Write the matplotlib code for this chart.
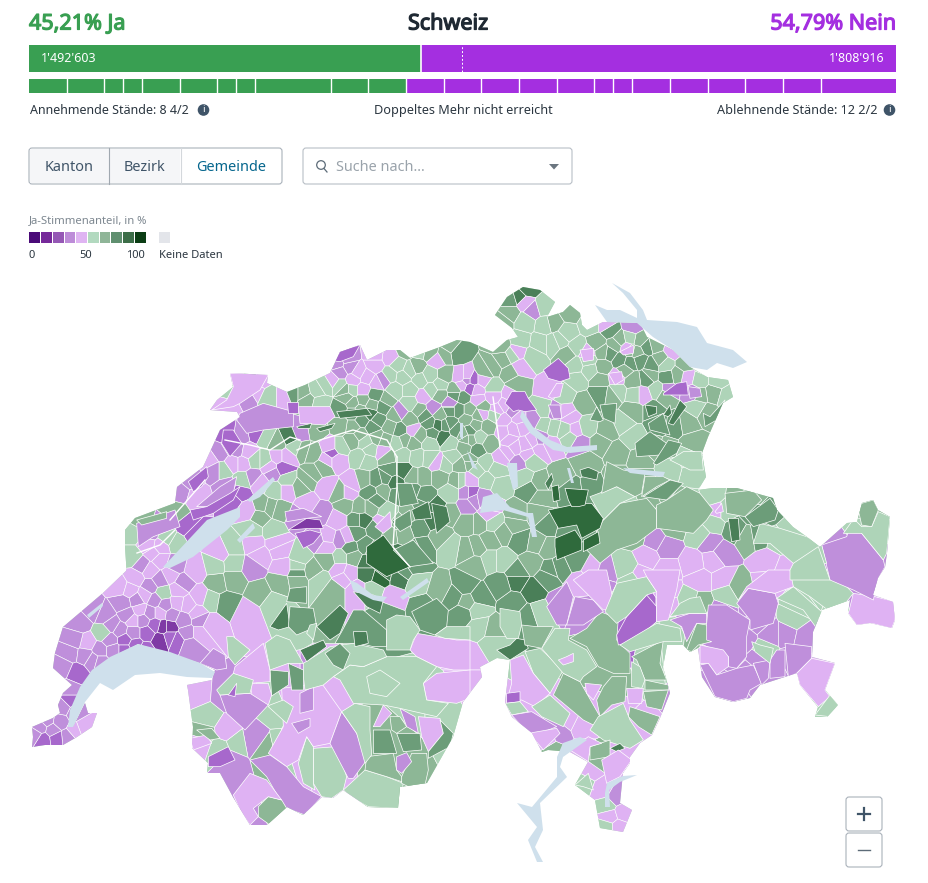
import numpy as np
import matplotlib
matplotlib.use("Agg")
import matplotlib.pyplot as plt
import matplotlib.patheffects as pe
from matplotlib.patches import Polygon, FancyBboxPatch, Circle, Rectangle
from matplotlib.collections import PolyCollection
from matplotlib.colors import ListedColormap, BoundaryNorm

plt.rcParams['font.family'] = ['Noto Sans', 'DejaVu Sans']

W, H = 929, 883
# headline values
yes_votes, no_votes = 1492603, 1808916
yes_label, no_label = "45,21% Ja", "54,79% Nein"
stand_yes = [1, 1, .5, .5, 1, 1, .5, .5, 2, 1, 1]
stand_no = [1, 1, 1, 1, 1, .5, .5, 1, 1, 1, 1, 1, 2]
legend_colors = ['#4a0a78', '#76299a', '#9558b5', '#bd8cd8', '#dfb4f2',
                 '#b2d9bf', '#8fb598', '#5f8f6f', '#3c6e48', '#0b3d14']
legend_ticks = ['0', '50', '100']

# Ja-share classes used on the map
P4, P3, P2, P1, G1, G2, G3, G4, G5 = 15, 25, 35, 45, 55, 62, 68, 74, 80
share_bounds = [0, 20, 30, 40, 50, 60, 65, 70, 77, 100]
share_colors = ['#7f3aa5', '#a768cc', '#bf8fdb', '#dfb2f3', '#aed4b8',
                '#8db796', '#6c9d79', '#4a7f58', '#2f6a3c']

# map geometry, in the map's own coordinate plane
border = [(230,373),(268,375),(267,383),(287,392),(305,385),(330,373),(340,352),(360,345),(367,360),(387,350),(400,350),(410,358),(440,347),(457,340),(470,342),(493,352),(507,340),(518,337),(512,328),(495,315),(507,297),(523,287),(540,290),(555,302),(547,317),(563,312),(570,305),(580,313),(582,325),(587,330),(603,322),(640,323),(647,337),(673,350),(690,367),(707,377),(728,380),(733,397),(723,403),(708,437),(702,453),(706,477),(698,490),(713,488),(737,488),(773,498),(777,510),(793,527),(807,537),(820,547),(847,523),(857,522),(862,503),(873,500),(878,510),(890,517),(887,553),(885,567),(878,578),(873,595),(893,602),(895,620),(892,628),(870,623),(857,625),(848,613),(850,600),(822,610),(813,632),(812,657),(835,663),(825,690),(838,705),(827,717),(815,717),(818,707),(800,685),(797,673),(760,685),(750,698),(733,702),(715,697),(702,677),(698,648),(690,652),(683,645),(667,645),(663,667),(670,693),(660,718),(652,735),(640,743),(630,757),(630,763),(623,773),(620,803),(632,810),(623,832),(600,828),(595,800),(575,785),(588,762),(570,752),(548,750),(542,752),(532,733),(512,717),(505,702),(510,660),(497,658),(480,667),(482,677),(463,702),(453,737),(427,783),(400,787),(398,808),(368,807),(343,790),(333,798),(322,797),(303,815),(287,807),(267,825),(250,825),(233,797),(220,773),(207,773),(208,763),(192,748),(193,727),(188,690),(187,685),(212,680),(215,670),(200,663),(138,644),(110,658),(92,677),(73,727),(85,703),(88,713),(97,713),(92,727),(77,737),(63,745),(45,745),(32,747),(33,737),(32,727),(53,718),(60,713),(58,705),(63,693),(72,685),(53,668),(55,653),(63,627),(103,593),(127,570),(127,577),(125,547),(125,530),(135,518),(175,503),(177,487),(203,467),(220,430),(240,417),(237,412),(210,410),(217,400),(233,387)]

lake_geneva = [(138,644),(170,652),(200,663),(215,672),(212,678),(187,677),(160,673),(135,675),(113,690),(100,683),(85,702),(73,727),(68,727),(70,710),(80,687),(92,670),(110,657)]
lake_constance = [(612,283),(630,293),(643,310),(647,320),(677,322),(697,327),(707,343),(733,350),(747,362),(733,368),(717,363),(707,370),(690,367),(673,350),(653,337),(637,323),(637,310),(623,293)]
lake_untersee = [(595,305),(607,310),(620,310),(637,318),(637,323),(607,322),(600,312)]
lake_neuchatel = [(163,567),(207,520),(240,507),(240,517),(227,530),(193,557),(170,568)]
lake_murten = [(237,540),(253,523),(255,528),(240,543)]
lake_biel = [(247,500),(273,477),(275,480),(260,497),(250,502)]
lake_zurich = [(522,410),(533,427),(550,440),(567,447),(597,445),(597,450),(570,453),(553,450),(530,433),(520,417)]
lake_walen = [(623,468),(665,472),(663,477),(630,473)]
lake_zug = [(507,463),(517,463),(518,487),(513,490),(510,477)]
lake_lucerne = [(483,497),(497,493),(510,507),(527,513),(533,513),(537,537),(532,537),(528,517),(503,510),(480,513)]
lake_sempach = [(467,450),(478,470),(472,467)]
lake_hallwil = [(460,423),(463,423),(463,440),(460,437)]
lake_lauerz = [(567,468),(570,468),(574,483),(571,483)]
lake_thun = [(350,580),(353,590),(373,600),(383,602),(387,597),(373,595),(357,583)]
lake_brienz = [(400,597),(427,578),(429,582),(403,600)]
lake_maggiore = [(580,737),(587,740),(563,757),(560,767),(567,777),(540,803),(543,830),(535,847),(543,862),(537,862),(528,840),(537,827),(517,803),(532,807),(557,777),(557,757),(563,743)]
lake_lugano = [(637,775),(620,782),(609,790),(610,807),(605,807),(605,793),(607,783),(623,776)]
lake_joux = [(87,615),(102,603),(103,606),(89,618)]
lakes = [lake_geneva, lake_constance, lake_untersee, lake_neuchatel, lake_murten, lake_biel,
         lake_zurich, lake_walen, lake_zug, lake_lucerne, lake_sempach, lake_hallwil,
         lake_lauerz, lake_thun, lake_brienz, lake_maggiore, lake_lugano, lake_joux]

canton_lines = [
    [(397,457),(397,487),(393,547),(410,567)],
    [(297,450),(320,440),(353,430),(387,440),(397,457)],
    [(300,440),(290,437),(270,450),(250,445),(225,440)],
    [(170,520),(205,480)],
    [(137,553),(160,545),(175,530)],
    [(493,397),(500,447)],
]

grisons = [(853,558,P2),(870,530,G1),(873,510,G2),(855,590,P2),(870,612,P1),(885,612,P1),(875,545,P2),(835,555,P2),(878,535,G1),
 (820,590,G1),(800,605,G1),(810,575,G1),(835,595,G1),(780,540,G1),(807,560,G1),(790,532,G1),(767,563,P1),(768,580,P1),(785,570,P1),
 (710,543,P2),(722,553,P2),(713,560,P1),(693,563,P1),(667,547,P2),(655,540,P2),(647,557,P1),(667,570,P1),(627,567,G1),(640,575,P1),
 (593,570,P1),(603,573,P2),(560,603,P2),(583,610,P2),(580,583,P1),(600,583,P2),(637,590,G1),(627,597,G1),(633,580,G1),(637,620,P3),
 (628,628,P3),(645,605,P3),(667,590,P1),(667,605,P1),(650,632,G1),(670,630,G1),(700,580,P1),(690,600,G1),(700,603,G2),(690,620,P2),
 (700,633,G2),(727,637,P2),(720,613,P2),(713,653,P1),(733,683,P2),(757,607,P2),(760,657,P2),(773,670,P2),(763,650,G1),(770,633,P2),
 (787,633,P2),(793,620,G1),(805,637,P2),(793,660,P2),(813,680,P1),(817,670,P1),(827,708,G1),(723,580,P1),(737,587,G2),(727,593,G1),
 (745,640,P2),(760,622,P2),(745,675,P2),(720,680,P2),(730,660,P2),
 (623,520,G2),(635,535,G2),(610,497,G1),(625,505,G1),(667,517,G2),(680,503,G2),(690,503,G1),(663,490,G2),(640,477,G2),(617,477,G2),(650,495,G2),
 (717,510,P1),(713,523,G1),(735,530,G3),(753,513,G3),(770,510,G3),(737,500,G2),(713,497,G1),(747,537,G2),(758,535,G3),(673,527,G2),(693,520,G2),(700,535,G1),(725,510,G1),(755,495,G2)]
glarus_schwyz = [(567,530,G3),(540,497,G2),(530,490,G3),(540,483,G2),(537,513,G2),(517,513,G2),(520,540,G3),(503,533,G2),(503,560,G1),(537,543,G2),(532,563,G2),(560,567,G3),(517,573,G3),(550,570,G3),(477,547,G2),(467,550,G2),(480,523,G2),(467,523,G2),(493,523,G1),(488,515,P1),(515,525,G2),(548,525,G3),(548,548,G2),(575,560,G3),(490,540,G2),(490,560,G1),(475,565,G2),(560,477,G2),(570,490,G3),(593,487,G3),(587,463,G2)]
zurich = [(513,410,P2),(550,388,P1),(587,353,P1),(555,412,P2),(567,412,P1),(533,440,P1),(503,420,P1),(513,430,P1),(523,427,P1),(507,453,P1),(518,463,P2),(540,450,P1),(580,443,P2),(570,417,P1),(482,413,P1),(473,380,P3),(467,377,P1),(477,390,P1),(483,380,P1),(520,367,P1),(517,352,P1),(510,440,P1),(525,445,P1),(545,425,G1),(510,395,P1),(575,430,P1),(565,430,G1),(550,445,P1),
 (520,418,P1),(532,418,P2),(503,432,P1),(497,410,P1),(540,438,P2),(515,447,P1),(528,455,P1),(505,405,P1),(544,410,G1),(470,388,P3),(462,385,P1),(478,400,P1)]
northeast = [(610,330,G3),(627,348,P1),(617,377,P1),(668,390,P2),(693,393,P2),(643,395,P1),(687,377,P1),(633,327,P2),(607,325,P1),(673,350,P1),(610,353,G3),(620,360,G3),(630,363,G3),(647,347,G3),(647,378,G3),(667,377,G3),(597,343,G2),(603,367,G2),(617,392,G1),(633,380,G2),(657,390,G1),(600,393,G3),(613,395,G2),(633,410,G2),(623,423,G1),(653,410,G3),(658,423,G3),(675,425,G3),(687,423,G2),(707,413,G2),(697,407,G1),(713,393,G2),(727,397,G1),(717,380,G1),(700,380,G1),(633,437,G1),(653,447,G2),(667,450,G2),(693,443,G2),(687,457,G1),(693,473,G1),(670,467,G1),(640,460,G2),(617,453,G2),(600,443,G2),(607,430,G2),(587,427,G1),(583,403,G2),(577,380,G1),(577,347,G1),(567,333,G1),(553,323,G2),(540,343,G1),(553,343,G1),(533,357,G1),(503,360,G2),(493,367,G2),(510,373,G2),(493,387,G1),(520,340,G1),(570,312,G2),(510,300,G3),(527,290,G4),(520,297,G4),(510,313,G2),(503,322,G2),(533,310,P2),(525,302,P1),(543,307,G1),(545,325,G1),(525,322,G1),(590,325,G1),(620,340,G2),(590,370,G1),(630,350,G2),(660,360,G2),(685,365,G2),(655,345,G2),(640,360,G3),(635,395,G1),(665,395,G2),(567,355,G2),(600,380,G2),(565,395,G1),(700,395,G2),(650,375,G2),(615,345,G2),
 (603,352,G2),(588,360,G1),(625,370,G2),(637,352,G2),(665,365,G1),(652,365,G3),(678,375,G2),(705,368,G1),(640,340,G2),(630,338,G1),(575,365,G1),(560,340,G1),(516,384,G2),(501,345,G2),(513,355,G1),(485,372,G2)]
central = [(467,440,G2),(480,437,G1),(477,450,G3),(490,443,G2),(470,430,G3),(463,397,G3),(470,410,G2),(483,407,G2),(493,397,P1),(467,420,G2),(488,427,G2),(470,460,G2),(485,463,G1),(502,457,P1),(532,460,G1),(523,477,G1),(497,470,G1),(470,480,P1),(477,470,G1),(553,427,G1),(570,437,G1),(487,480,G1),(500,485,G1),(473,500,P2),(470,493,P3),(483,498,P2),(467,505,P2),(490,505,P1),(457,480,G2),(460,465,G2),
 (458,410,G3),(450,410,G3),(475,425,G2),(495,415,G1),(455,395,G3),(478,415,G2)]
jura = [(240,380,P1),(250,377,G2),(260,380,P1),(230,393,G1),(247,395,P2),(227,405,P1),(255,390,P1),(270,397,G1),(283,397,P1),(293,393,G3),(303,393,G2),(307,400,G2),(320,403,G1),(317,390,G1),(317,430,G2),(300,433,P2),(290,437,G4),(277,443,G2),(265,437,G1),(257,433,P3),(240,437,P2),(227,435,P3),(230,447,P3),(237,450,P2),(220,453,P2),(210,460,P1),(223,470,G1),(233,463,P1),(243,463,P1),(255,460,G1),(265,460,G1),(277,457,P1),(287,457,P1),
 (243,480,G1),(273,473,P2),(283,468,P3),(260,483,P1),(253,477,P2),(190,480,P2),(180,492,P2),(197,497,P1),(227,487,P2),(240,493,P3),(233,500,P3),(150,533,P2),(133,533,G1),(163,527,P2),(187,527,P3),(193,533,P3),(177,543,G1),(167,537,G1),(160,547,P1),(133,557,G1),(153,553,P1),(175,512,G2),(140,520,G2),
 (248,452,P1),(270,467,P1),(295,447,G1),(215,470,P2),(148,545,P1),(142,565,P2),(160,560,P1)]
plateau = [(233,547,G1),(220,553,P1),(233,563,G1),(253,543,P1),(277,543,P1),(260,517,G2),(270,507,G2),(262,505,G2),(247,510,P1),(252,530,G1),(273,530,G1),(280,550,P1),(260,557,P1),(253,567,P2),(283,567,P1),(297,567,G1),(297,517,P2),(307,503,P1),(322,513,P2),(337,520,P1),(328,537,P1),(347,537,P1),(317,540,P2),(280,510,G2),(287,490,P1),(275,490,G1),(287,480,G1),(300,487,G2),(313,473,G2),(327,487,P1),(307,480,G2),(323,467,G2),(303,450,G2),(313,453,G2),(330,447,P1),(332,453,P3),(327,460,P1),(337,460,P1),(340,447,G1),(348,493,P1),(353,483,P1),(340,493,G2),(367,460,G1),(383,452,P1),(360,457,G1),(363,480,G2),(377,480,G3),(390,470,G3),(403,470,G4),(413,477,G2),(397,493,G3),(370,493,G3),(383,490,G2),(407,493,G4),(420,507,G3),(437,507,G4),(387,513,G1),(383,522,P1),(400,523,G2),(410,513,G2),(420,527,G3),(433,520,G4),(450,513,G2),(467,493,P2),(450,493,G1),(437,463,P1),(423,477,G2),(440,477,G2),(460,480,G1),(357,520,G3),(357,533,G3),(370,507,G2),(360,507,G2),(383,550,G3),(373,550,G5),(387,567,G5),(403,560,G4),(417,550,G3),(403,533,G2),(423,547,G3),(450,547,G1),(440,537,G2),(367,563,G4),(403,573,G3),(353,557,G2),(340,557,G1),(348,573,P1),(340,570,P1),(367,573,G4),(383,573,G4),(327,547,P1),(340,540,P2),(297,573,G3),(313,570,G2),(327,560,G2),(300,557,G1),(390,535,G2),(375,530,G3),(345,505,G2),
 (365,545,G3),(375,560,G5),(395,555,G4),(362,520,G4),(350,548,G3),(415,565,G3),(375,500,G3),(385,478,G3),(395,483,G4),(412,490,G3),(425,495,G3)]
aargau_solothurn = [(337,363,P2),(350,367,P2),(340,373,P2),(367,377,P1),(353,380,P1),(390,357,P1),(377,383,P1),(333,380,P1),(383,380,P2),(363,390,P1),(400,412,P2),(423,397,P1),(433,408,P2),(450,403,P2),(403,377,G1),(417,367,G2),(437,360,P1),(457,353,G3),(450,347,G2),(460,377,P1),(467,380,P2),(420,380,G1),(410,403,G1),(387,400,G2),(383,407,G3),(363,400,G2),(353,413,G3),(370,413,G4),(347,397,G2),(353,403,G2),(353,427,G2),(373,427,G3),(390,427,G2),(413,430,P1),(430,423,G3),(443,437,G4),(433,433,G3),(450,423,G3),(410,420,G2),(397,443,G1),(413,443,G2),(430,443,G1),(450,443,G1),(470,440,G2),(370,450,G1),(377,437,G2),(387,457,G2),(417,457,G1),(453,457,G1),(470,463,G2),(353,440,G2),(463,433,G2),(465,447,G2),(400,430,G3),(395,390,G1),(440,385,G1),(445,375,G2),(430,375,G1),(420,350,G1),(375,365,P1),(398,365,G1),(440,415,G2),(420,410,G2),(375,395,G3),(340,385,G1),(325,385,G1),(340,410,G3),(340,425,G2),(430,458,G1),(445,465,G1),(403,455,G1),
 (345,390,G2),(360,410,G2),(378,420,G3),(362,420,G3),(395,415,G2),(425,415,G3),(445,425,G3),(457,430,G3),(438,425,G4),(405,440,G2),(420,435,G2),(385,440,G2),(360,435,G2),(365,442,G1),(440,395,G2),(410,390,G1),(390,375,G1),(410,370,G1),(432,390,G1),(455,390,G2),(348,358,P2),(358,372,P1),(375,355,P1),(430,352,G2),(445,355,G2),(405,350,G2),(352,390,G1),(372,405,G2)]
oberland_valais = [(197,693,P1),(207,717,G1),(203,733,G2),(200,743,P1),(220,750,G1),(253,740,P2),(267,750,G2),(237,743,G1),(280,747,G1),(300,723,P3),(307,703,P2),(293,703,P1),(330,697,P1),(320,713,P1),(293,743,P1),(320,740,P1),(227,730,P1),(277,710,G1),(410,700,G1),(383,730,G2),(440,700,G1),(230,760,P2),(225,695,P2)]
vaud_geneva = [(80,623,P2),(93,610,P2),(103,633,G1),(120,630,P2),(70,653,P2),(87,643,P1),(63,667,P2),(77,673,P3),(93,660,P2),(113,650,P2),(133,633,P2),(133,620,P1),(123,603,P2),(137,600,P2),(120,587,P1),(150,587,P2),(163,593,G1),(160,613,P1),(177,603,P1),(150,613,P2),(163,627,P4),(170,627,P4),(160,640,P4),(147,633,P3),(177,640,P3),(187,633,P2),(200,633,P1),(197,613,P1),(183,583,P2),(200,597,P1),(217,583,G2),(210,600,G1),(233,580,G2),(247,613,P1),(260,593,G2),(227,603,G3),(280,583,G2),(273,603,G1),(297,580,G2),(320,580,G1),(333,590,G2),(357,590,P1),(373,590,G1),(393,597,P1),(387,613,G3),(423,607,G3),(380,577,G5),(400,577,G4),(417,583,G1),(453,597,G3),(440,590,G2),(467,603,G2),(343,577,P1),(130,590,P1),(105,615,P2),(145,650,P3),(125,640,P3),(110,640,P2),(150,570,P1),(170,575,P1),(195,570,P1),(215,565,G1),
 (40,727,P2),(53,730,P2),(67,737,P2),(43,740,P3),(60,722,P2),(83,727,P1),(70,700,P3),(70,690,P2),(75,713,P2),(63,707,P2),(47,720,P2),(35,735,P2),(57,738,P3),(75,730,P1),
 (143,620,P2),(140,610,P1),(155,625,P3),(172,615,P2),(183,620,P2),(165,605,P2),(188,605,P1),(178,590,P1),(145,595,P1),(128,615,P2),(112,625,P2),(100,650,P2),(125,650,P3),(135,645,P3),(100,662,P2),(85,655,P2),(155,600,P2),(135,578,P1),(160,580,P2),(175,565,P2),(75,640,P2),(200,620,P2),(210,625,P1),(190,645,P2),(170,637,P3)]
ticino = [(593,653,G2),(583,783,G1),(603,790,P1),(615,797,P2),(607,805,G1),(610,817,P1),(623,813,P1),(607,827,G1),(618,827,P1),(590,770,P1),(617,763,P1),(597,760,G2),(553,750,G2),(580,725,P1),(570,720,P1),(547,740,P1),(560,733,P2),(580,753,P1),
 (517,580,G4),(533,590,G4),(513,603,G3),(480,597,G3),(463,613,G3),(477,610,G1),(528,617,G3),(540,613,G1),(547,577,G3),(470,657,P1),(470,683,P1),(493,643,G1),(480,627,G1),(493,630,G2),(500,585,G3),(465,585,G3)]
municipality_groups = [grisons, glarus_schwyz, zurich, northeast, central, jura, plateau,
                       aargau_solothurn, oberland_valais, vaud_geneva, ticino]

# large municipalities and districts, traced outline per crop of the picture
crop_valais = (20, 570, [
 (G1,[(970,660),(1035,600),(1100,620),(1150,640),(1135,715),(1045,710),(990,680)]),
 (G1,[(880,535),(950,530),(980,620),(970,660),(935,685),(905,680),(880,640)]),
 (G1,[(835,580),(860,500),(880,530),(880,640),(885,660),(850,640)]),
 (P1,[(785,355),(860,345),(905,340),(965,425),(930,520),(880,530),(860,500),(835,570),(800,590),(745,550),(790,470)]),
 (P2,[(815,460),(870,445),(870,470),(835,490)]),
 (P2,[(840,370),(880,350),(880,420),(840,430)]),
 (P2,[(965,425),(1010,490),(1040,570),(1000,625),(985,625),(930,520)]),
 (P2,[(690,570),(750,555),(800,590),(850,650),(905,680),(855,735),(800,715),(780,690),(740,620)]),
 (G2,[(715,710),(745,680),(785,690),(800,715),(750,765),(715,740)]),
 (P1,[(640,675),(690,610),(740,630),(785,690),(745,680),(700,715),(715,740),(690,765),(660,720)]),
 (G2,[(1145,620),(1175,550),(1220,550),(1225,600),(1215,645),(1175,655),(1145,640)]),
 (G2,[(1040,560),(1120,550),(1130,600),(1145,620),(1145,635),(1100,620),(1035,600)]),
 (P2,[(1130,560),(1160,548),(1175,575),(1145,610),(1130,600)]),
 (G3,[(1060,480),(1110,480),(1130,550),(1060,550)]),
 (G3,[(1130,490),(1200,490),(1205,540),(1150,545)]),
 (P1,[(1195,440),(1260,445),(1270,490),(1225,545),(1205,500)]),
 (G3,[(1260,450),(1300,490),(1290,530),(1225,565),(1225,545),(1270,490)]),
 (G2,[(1110,440),(1140,440),(1160,470),(1130,490),(1115,480)]),
 (P2,[(1140,415),(1185,440),(1195,490),(1160,470)]),
 (P1,[(1060,470),(1090,405),(1115,430),(1080,470)]),
 (G1,[(1005,400),(1050,410),(1050,480),(1055,555),(1035,580),(1010,490),(965,425)]),
 (P1,[(1170,240),(1190,190),(1310,210),(1350,210),(1350,300),(1300,300),(1250,290),(1190,260)]),
 (P1,[(1210,340),(1250,310),(1350,300),(1350,385),(1310,400),(1220,390)]),
 (G1,[(940,320),(990,285),(1030,290),(1100,260),(1190,260),(1250,290),(1210,340),(1220,390),(1285,400),(1250,440),(1140,415),(1090,405),(1000,400),(960,330)]),
 (G1,[(1040,320),(1080,300),(1140,340),(1100,380),(1050,370)]),
 (G1,[(850,280),(930,230),(1000,220),(1090,240),(1100,260),(1030,290),(990,285),(940,320),(910,345),(855,360),(850,320)]),
 (G4,[(750,170),(800,100),(810,170),(775,180)]),
 (G3,[(810,110),(880,115),(890,170),(830,195),(805,170)]),
 (G4,[(840,240),(910,210),(920,230),(860,275)]),
 (G4,[(890,170),(960,105),(985,130),(960,190),(930,210)]),
 (G3,[(915,250),(960,220),(990,250),(970,300),(940,285)]),
 (G3,[(1000,120),(1030,120),(1100,180),(1100,230),(1060,230),(1020,220),(945,220),(965,185)]),
 (G4,[(1000,185),(1040,185),(1045,220),(1005,230)]),
 (G1,[(1100,150),(1130,135),(1170,140),(1200,180),(1180,210),(1170,240),(1100,240)]),
 (G3,[(1175,125),(1250,85),(1285,120),(1280,170),(1245,195),(1200,180)]),
 (G1,[(1280,170),(1350,170),(1350,210),(1275,205),(1245,195)]),
 (G3,[(750,300),(805,305),(805,345),(755,378)]),
 (G3,[(805,280),(850,300),(850,360),(815,360)]),
 (P1,[(645,290),(730,220),(750,300),(750,335),(690,340),(640,310)]),
 (G1,[(735,220),(770,195),(810,210),(850,280),(805,280),(750,300)]),
 (G1,[(620,200),(640,200),(690,240),(645,285),(625,260)]),
 (P1,[(690,340),(745,340),(755,375),(745,405),(700,400)]),
 (P2,[(600,375),(690,370),(745,405),(675,480),(620,430)]),
 (G1,[(590,360),(640,310),(700,330),(690,370),(600,375)]),
 (P3,[(625,375),(650,340),(645,380)]),
 (G1,[(750,405),(790,390),(820,410),(800,460),(745,410)]),
 (P1,[(510,505),(560,495),(575,520),(520,540)]),
 (G2,[(530,480),(575,475),(600,505),(570,510)]),
 (P3,[(565,560),(625,530),(645,570),(600,590),(565,590)]),
 (P2,[(540,280),(580,235),(615,255),(620,295),(590,300)]),
 (G4,[(1000,65),(1060,75),(1090,90),(1080,130),(1040,110)]),
 (G3,[(810,55),(860,50),(860,100),(800,95)]),
 (G1,[(870,165),(890,160),(880,210),(860,190)]),
])
crop_south = (460, 570, [
 (G1,[(195,245),(240,235),(310,300),(270,370),(220,310)]),
 (P1,[(150,270),(190,255),(220,310),(270,370),(225,410),(185,390),(140,395),(155,340)]),
 (P3,[(140,370),(180,365),(180,395),(140,400)]),
 (G2,[(310,310),(360,335),(420,440),(410,470),(370,450),(280,375)]),
 (G1,[(215,410),(270,375),(330,430),(310,470),(245,440)]),
 (G1,[(135,400),(180,395),(205,425),(155,435)]),
 (P2,[(155,435),(215,425),(290,470),(240,490),(205,490)]),
 (P1,[(205,490),(290,475),(300,490),(250,540),(225,510)]),
 (P1,[(375,340),(425,345),(400,390),(380,370)]),
 (G2,[(410,390),(430,350),(455,320),(500,320),(495,395),(455,405),(420,440)]),
 (G2,[(330,205),(380,175),(420,125),(475,145),(470,210),(510,250),(510,310),(460,310),(415,290),(380,230)]),
 (G1,[(245,235),(285,175),(330,175),(325,210),(380,240),(410,290),(370,320),(360,335),(310,310)]),
 (P1,[(295,270),(320,260),(340,250),(340,275),(310,285)]),
 (G4,[(110,240),(150,225),(170,205),(195,210),(205,235),(150,270)]),
 (G2,[(185,165),(230,170),(280,170),(245,235),(195,225)]),
 (G1,[(120,115),(180,125),(185,165),(175,205),(140,205),(120,170)]),
 (G2,[(515,260),(610,210),(600,280),(620,330),(555,330),(530,270)]),
 (G1,[(515,275),(540,290),(555,330),(545,355),(515,350)]),
 (G2,[(555,330),(625,345),(625,360),(555,360)]),
 (G2,[(550,365),(625,360),(605,420),(560,410)]),
 (P1,[(500,355),(550,355),(545,400),(505,400)]),
 (G2,[(510,410),(600,440),(575,495),(535,470),(505,440)]),
 (G1,[(415,440),(490,400),(510,450),(550,510),(510,535),(430,510),(390,480)]),
 (G2,[(390,530),(450,510),(450,560),(390,570)]),
 (G4,[(450,535),(480,520),(495,535),(470,545)]),
 (P1,[(330,540),(385,500),(425,520),(390,530),(385,575)]),
 (P1,[(425,570),(475,540),(515,570),(480,620),(440,640)]),
 (G1,[(345,645),(385,610),(400,660),(370,650)]),
 (P3,[(470,195),(500,140),(560,75),(590,110),(590,155),(520,215),(475,225)]),
 (G1,[(480,225),(590,160),(660,175),(665,215),(610,215),(510,245)]),
 (P2,[(260,110),(320,35),(340,80),(320,165),(290,165)]),
 (P2,[(320,165),(345,80),(400,90),(430,125),(370,165)]),
 (P1,[(340,30),(385,0),(440,0),(465,115),(430,120),(400,90)]),
 (G1,[(435,125),(470,40),(560,20),(590,65),(560,75),(500,140),(470,160)]),
 (P1,[(550,0),(660,0),(650,60),(625,150),(590,155),(590,110),(590,65),(560,20)]),
 (P2,[(745,105),(800,105),(870,150),(860,200),(860,260),(830,295),(805,290),(805,260),(720,220),(740,160)]),
 (P1,[(720,225),(790,240),(805,260),(805,290),(770,315),(745,280),(720,280)]),
 (P2,[(720,285),(745,280),(770,315),(830,295),(880,285),(905,340),(870,360),(860,385),(820,395),(765,380)]),
 (G2,[(680,240),(710,160),(740,165),(740,210),(755,215),(715,225),(695,245)]),
 (P2,[(630,150),(690,130),(740,130),(740,160),(710,160),(680,215),(665,170)]),
 (G1,[(630,140),(660,100),(690,85),(720,80),(740,130),(690,130)]),
 (P2,[(830,100),(865,55),(945,70),(955,100),(940,160),(870,180),(870,150)]),
 (G1,[(950,85),(1000,50),(1085,125),(1070,175),(1030,120)]),
 (P2,[(880,280),(930,270),(925,325),(905,345)]),
 (P2,[(930,270),(950,240),(975,240),(975,320),(930,325)]),
 (G1,[(875,215),(900,225),(940,235),(930,280),(885,245)]),
 (P2,[(975,220),(1055,230),(1055,265),(1010,310),(985,320)]),
 (P1,[(1010,310),(1055,265),(1125,280),(1095,360),(1110,380),(1075,410),(1020,345)]),
 (G1,[(1065,435),(1110,375),(1135,405),(1110,440)]),
 (P1,[(1165,130),(1180,70),(1245,80),(1305,95),(1305,150),(1295,175),(1235,160),(1190,165)]),
 (G1,[(990,30),(1000,0),(1110,0),(1180,70),(1160,95),(1110,125),(1050,80),(1000,50)]),
 (P1,[(835,90),(860,50),(925,0),(990,0),(1000,50),(945,70),(865,55)]),
])
crop_east = (460, 280, [
 (P2,[(1085,795),(1160,770),(1175,725),(1205,760),(1270,840),(1275,860),(1255,895),(1240,960),(1180,930),(1110,900)]),
 (G1,[(1150,760),(1175,725),(1190,725),(1205,740),(1235,740),(1255,695),(1290,710),(1280,820),(1270,840),(1205,760)]),
 (G2,[(1195,690),(1205,670),(1240,660),(1255,690),(1235,740),(1205,735)]),
 (G1,[(900,730),(960,745),(1040,770),(1085,795),(1100,850),(1000,850),(930,790),(880,790)]),
 (G1,[(990,870),(1000,850),(1075,800),(1110,900),(990,900)]),
 (G2,[(430,720),(480,670),(560,655),(590,690),(590,745),(530,790),(470,810),(420,850),(380,810)]),
 (G1,[(390,650),(470,620),(525,650),(480,670),(430,720)]),
 (G2,[(425,640),(440,545),(490,570),(555,580),(545,640),(525,650),(470,620)]),
 (G2,[(555,590),(610,590),(630,600),(590,620),(545,650)]),
 (G3,[(550,650),(630,600),(670,610),(620,660)]),
 (G2,[(590,675),(620,660),(680,620),(720,640),(760,690),(740,720),(700,760),(630,750),(590,745)]),
 (G5,[(265,690),(360,670),(395,670),(430,715),(420,745),(365,775),(350,735),(295,745)]),
 (G5,[(285,775),(345,750),(365,780),(365,810),(290,840),(285,800)]),
 (G5,[(370,780),(415,755),(420,790),(370,815)]),
 (G5,[(275,620),(295,615),(300,660),(280,665)]),
 (G5,[(315,625),(385,630),(375,675),(355,680),(335,680),(325,660)]),
 (G4,[(360,570),(385,562),(415,575),(410,600),(365,590)]),
 (G4,[(255,610),(275,580),(280,600),(265,630)]),
 (P3,[(135,370),(155,335),(195,335),(205,355),(230,390),(195,395),(175,390),(160,395)]),
 (P3,[(250,270),(295,235),(325,265),(330,295),(300,305),(265,295)]),
 (P1,[(265,350),(290,310),(310,310),(300,350),(275,355)]),
 (P2,[(265,375),(300,375),(305,415),(280,415)]),
 (P3,[(610,340),(650,310),(680,305),(685,345),(610,345)]),
 (P2,[(685,320),(720,325),(725,350),(690,355)]),
 (P1,[(445,280),(485,275),(490,300),(465,315)]),
 (P1,[(480,215),(520,195),(520,220),(490,225)]),
 (P1,[(360,210),(400,205),(400,240),(370,245)]),
 (G3,[(390,420),(410,380),(430,420),(420,425)]),
 (G3,[(420,375),(470,370),(465,430),(430,415)]),
 (G4,[(555,375),(590,380),(590,400),(565,410)]),
 (G4,[(610,405),(630,375),(635,400),(625,410)]),
 (G4,[(625,430),(660,360),(680,380),(640,435)]),
 (G3,[(565,430),(610,400),(630,465),(570,450)]),
 (G3,[(525,490),(570,455),(620,490),(600,525),(530,530)]),
 (G3,[(580,550),(625,480),(665,490),(650,520),(590,555)]),
 (G1,[(630,540),(670,515),(725,515),(730,570),(690,570)]),
 (G3,[(730,400),(750,410),(795,360),(770,420),(735,440)]),
 (G4,[(805,715),(835,715),(840,780),(815,785)]),
 (G3,[(855,710),(930,655),(955,690),(945,720),(880,740)]),
 (G2,[(795,640),(880,630),(905,660),(855,710),(800,700)]),
 (P1,[(765,695),(785,670),(790,695),(770,700)]),
])
crop_west = (20, 280, [
 (P4,[(805,750),(860,715),(900,720),(910,745),(870,745)]),
 (P3,[(825,760),(870,750),(905,760),(880,790),(850,805)]),
 (P2,[(795,695),(850,685),(905,710),(860,715),(800,725)]),
 (P2,[(350,730),(465,690),(480,740),(400,770),(355,800)]),
 (G2,[(350,720),(440,695),(440,715),(365,735)]),
 (P2,[(530,680),(600,620),(650,590),(640,640),(590,680)]),
 (P3,[(510,690),(560,680),(630,640),(660,620),(640,660),(580,700),(520,720)]),
 (P3,[(505,605),(560,560),(565,590),(545,620),(520,635)]),
 (P2,[(660,400),(730,370),(820,395),(820,440),(730,450),(680,460),(650,420)]),
 (P1,[(575,390),(620,360),(640,320),(630,280),(700,280),(745,285),(720,330),(660,370),(640,380)]),
 (P1,[(835,380),(930,380),(945,410),(915,435),(840,430)]),
 (P3,[(800,365),(835,365),(835,400),(805,400)]),
 (G4,[(950,395),(1000,390),(1040,385),(1055,405),(960,415)]),
 (G4,[(830,440),(875,430),(870,445),(835,445)]),
 (G4,[(890,445),(945,430),(935,445),(900,455)]),
 (P3,[(610,450),(640,450),(665,490),(630,530),(605,490)]),
 (P3,[(920,240),(960,210),(1020,195),(1000,230),(960,245)]),
 (P1,[(1065,740),(1110,695),(1115,740),(1090,760)]),
 (G5,[(1040,800),(1090,765),(1125,810),(1170,860),(1100,890),(1040,850)]),
 (G3,[(1115,725),(1170,690),(1175,735),(1140,755)]),
 (G3,[(1130,610),(1175,610),(1195,670),(1140,680)]),
 (G4,[(1175,690),(1225,665),(1235,715),(1185,720)]),
 (G4,[(1235,670),(1280,680),(1290,725),(1250,760)]),
 (G3,[(1120,810),(1180,780),(1240,850),(1170,860)]),
])
traced_crops = [crop_valais, crop_south, crop_east, crop_west]


def voronoi_cells(xy):
    """Cell of every municipality seed: the bounding box cut by the bisector to each neighbour."""
    cells = []
    box = [(0, 270), (W, 270), (W, H), (0, H)]
    for i, p in enumerate(xy):
        d = np.hypot(*(xy - p).T)
        poly = box
        for j in np.argsort(d)[1:90]:
            m = (xy[j] + p) / 2
            n = xy[j] - p
            new = []
            for k in range(len(poly)):
                a, b = np.array(poly[k]), np.array(poly[(k + 1) % len(poly)])
                da, db = np.dot(a - m, n), np.dot(b - m, n)
                if da <= 0:
                    new.append(tuple(a))
                if da * db < 0:
                    new.append(tuple(a + (b - a) * da / (da - db)))
            poly = new
            if not poly:
                break
        cells.append(poly)
    return cells


fig = plt.figure(figsize=(W / 100, H / 100), dpi=100, facecolor='white')
ax = fig.add_axes([0, 0, 1, 1])
ax.set_xlim(0, W)
ax.set_ylim(H, 0)
ax.axis('off')


def sub_axes(x0, y0, x1, y1):
    a = fig.add_axes([x0 / W, 1 - y1 / H, (x1 - x0) / W, (y1 - y0) / H])
    a.axis('off')
    return a


GREEN, PURPLE = '#399f52', '#a42fe0'
# headline, thickened because the installed Noto Sans has one weight
for x, lbl, col, ha in ((29, yes_label, GREEN, 'left'), (448, "Schweiz", '#1f2933', 'center'),
                        (896, no_label, PURPLE, 'right')):
    ax.text(x, 24, lbl, color=col, fontsize=15.5, va='center', ha=ha,
            path_effects=[pe.withStroke(linewidth=.9, foreground=col)])

# vote bar
total = yes_votes + no_votes
a = sub_axes(29, 45, 896, 72)
a.set_xlim(0, total)
a.set_ylim(0, 1)
a.barh(.5, yes_votes, height=1, left=0, color=GREEN, edgecolor='none')
a.barh(.5, no_votes, height=1, left=yes_votes, color=PURPLE, edgecolor='none')
a.axvline(yes_votes, color='white', lw=1.2)
a.axvline(total / 2, color='white', lw=.7, ls=(0, (2, 2)))
a.text(.0139, .5, f"{yes_votes:,}".replace(',', "'"), color='white', fontsize=9, va='center',
       transform=a.transAxes)
a.text(.9873, .5, f"{no_votes:,}".replace(',', "'"), color='white', fontsize=9, va='center', ha='right',
       transform=a.transAxes)

# cantons bar
a = sub_axes(29, 79, 896, 93)
a.set_xlim(0, sum(stand_yes) + sum(stand_no))
a.set_ylim(0, 1)
left = 0
for col, vals in ((GREEN, stand_yes), (PURPLE, stand_no)):
    for v in vals:
        a.barh(.5, v, height=1, left=left, color=col, edgecolor='none')
        if left:
            a.axvline(left, color='white', lw=1)
        left += v

ax.text(30, 110.5, "Annehmende Stände: 8 4/2", fontsize=9, color='#2b3640', va='center')
ax.text(463, 110.5, "Doppeltes Mehr nicht erreicht", fontsize=9.1, color='#2b3640', va='center', ha='center')
ax.text(878, 110.5, "Ablehnende Stände: 12 2/2", fontsize=9.1, color='#2b3640', va='center', ha='right')
for cx in (203.5, 889.5):
    ax.add_patch(Circle((cx, 110), 5.8, color='#3f5468', lw=0))
    ax.text(cx, 110, "i", color='white', fontsize=7, fontweight='bold', ha='center', va='center')

# buttons
ax.add_patch(FancyBboxPatch((29, 148), 253, 36, boxstyle='round,pad=0,rounding_size=3',
                            fc='white', ec='#aab2ba', lw=.8))
ax.add_patch(Rectangle((30, 149), 150, 34, fc='#f5f6f8', ec='none'))
ax.plot([109, 109], [148, 184], color='#a0a8b0', lw=.8)
ax.plot([181, 181], [148, 184], color='#d4d8dc', lw=.8)
ax.text(69, 167.5, "Kanton", fontsize=10.4, color='#3f5468', ha='center', va='center')
ax.text(145, 167.5, "Bezirk", fontsize=10.4, color='#3f5468', ha='center', va='center')
ax.text(231, 167.5, "Gemeinde", fontsize=10.4, color='#05668d', ha='center', va='center')
ax.add_patch(FancyBboxPatch((303, 148), 269, 36, boxstyle='round,pad=0,rounding_size=3',
                            fc='white', ec='#b8bfc6', lw=.8))
ax.add_patch(Circle((321, 165), 4.3, fc='none', ec='#5c6b78', lw=.9))
ax.plot([324, 327], [168.5, 172], color='#5c6b78', lw=.9)
ax.text(336, 167.5, "Suche nach...", fontsize=10.4, color='#9aa3ab', va='center')
ax.add_patch(Polygon([(549, 164), (559, 164), (554, 169.5)], fc='#6b7680', ec='none'))

# legend
ax.text(29, 221, "Ja-Stimmenanteil, in %", fontsize=8.1, color='#7d8790', va='center')
a = sub_axes(29, 232, 146, 243)
a.set_xlim(0, 10)
a.set_ylim(0, 1)
a.bar(np.arange(10) + .5, np.ones(10), width=.92, color=legend_colors)
ax.add_patch(Rectangle((159, 232), 11, 11, fc='#e3e5ea', ec='none'))
for lbl, px, ha in zip(legend_ticks, (29, 86, 135), ('left', 'center', 'center')):
    ax.text(px, 255.5, lbl, fontsize=8, color='#2b3640', va='center', ha=ha)
ax.text(159, 255.5, "Keine Daten", fontsize=8, color='#2b3640', va='center')

# map
cmap, norm = ListedColormap(share_colors), BoundaryNorm(share_bounds, len(share_colors))
rows = np.array([r for g in municipality_groups for r in g], dtype=float)
cells = voronoi_cells(rows[:, :2])
outline = Polygon(border, closed=True, transform=ax.transData, fc='#aed4b8', ec='none', zorder=2)
ax.add_patch(outline)
pc = PolyCollection(cells, array=rows[:, 2], cmap=cmap, norm=norm,
                    edgecolors='#ffffff', linewidths=.4, zorder=3)
ax.add_collection(pc)
pc.set_clip_path(outline)

traced_polys, traced_vals = [], []
for ox, oy, items in traced_crops:
    for val, pts in items:
        traced_polys.append([(ox + x / 3, oy + y / 3) for x, y in pts])
        traced_vals.append(val)
tc = PolyCollection(traced_polys, array=np.array(traced_vals, dtype=float), cmap=cmap, norm=norm,
                    edgecolors='#ffffff', linewidths=.5, zorder=3.5)
ax.add_collection(tc)
tc.set_clip_path(outline)

for seg in canton_lines:
    xs, ys = zip(*seg)
    line, = ax.plot(xs, ys, color='white', lw=1, zorder=4, solid_joinstyle='round')
    line.set_clip_path(outline)
for lake in lakes:
    ax.add_patch(Polygon(lake, closed=True, fc='#cfe0ec', ec='none', zorder=5))

# zoom buttons
for y0 in (797, 833):
    ax.add_patch(FancyBboxPatch((846, y0), 36, 34, boxstyle='round,pad=0,rounding_size=3',
                                fc='white', ec='#aab2ba', lw=.8, zorder=6))
ax.plot([858, 870], [814, 814], color='#3f5468', lw=1.6, zorder=7)
ax.plot([864, 864], [808, 820], color='#3f5468', lw=1.6, zorder=7)
ax.plot([858, 870], [850, 850], color='#5c6b78', lw=1, zorder=7)

fig.savefig('out.png', dpi=100, facecolor='white')
